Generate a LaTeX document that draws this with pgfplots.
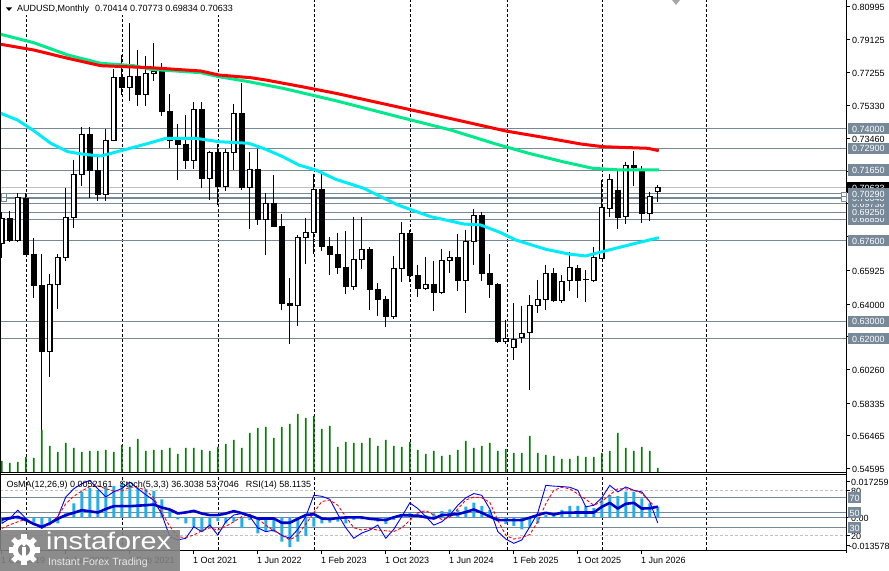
\documentclass[border=0pt]{standalone}
\usepackage{fontspec}
\setmainfont{Liberation Sans}
\usepackage{pgfplots}
\usepackage{pgfplotstable}
\pgfplotsset{compat=1.18}
\definecolor{slate}{RGB}{119,136,153}
\definecolor{maGreen}{RGB}{0,232,140}
\definecolor{maCyan}{RGB}{0,235,250}
\definecolor{volGreen}{RGB}{0,128,0}
\definecolor{osmaBlue}{RGB}{30,176,235}
\definecolor{rsiBlue}{RGB}{0,0,205}
\definecolor{bidGrey}{RGB}{192,192,192}
\newcommand{\mtfont}{\fontsize{9bp}{10bp}\selectfont}

\pgfplotstableread{
i o h l c
0 .6747 .6928 .6661 .6891
1 .6891 .6929 .6754 .6762
2 .6762 .7032 .6755 .7007
3 .7005 .7032 .6682 .6685
4 .6685 .6775 .6434 .6505
5 .6505 .6685 .5506 .6130
6 .6130 .6572 .5980 .6513
7 .6513 .6684 .6372 .6668
8 .6668 .7062 .6647 .6895
9 .6895 .7225 .6835 .7141
10 .7141 .7414 .7076 .7370
11 .7370 .7413 .7006 .7161
12 .7161 .7240 .6991 .7025
13 .7025 .7399 .6991 .7337
14 .7337 .7740 .7330 .7695
15 .7695 .7820 .7592 .7636
16 .7636 .8004 .7560 .7699
17 .7699 .7849 .7531 .7597
18 .7597 .7818 .7532 .7715
19 .7715 .7891 .7675 .7730
20 .7730 .7776 .7477 .7500
21 .7500 .7598 .7289 .7337
22 .7337 .7428 .7106 .7310
23 .7310 .7478 .7170 .7222
24 .7222 .7556 .7170 .7512
25 .7512 .7555 .7063 .7118
26 .7118 .7277 .6993 .7266
27 .7266 .7314 .6967 .7070
28 .7070 .7286 .7045 .7264
29 .7264 .7540 .7165 .7488
30 .7488 .7661 .7054 .7064
31 .7064 .7266 .6829 .7171
32 .7171 .7283 .6850 .6885
33 .6885 .7033 .6681 .6976
34 .6976 .7137 .6843 .6840
35 .6840 .6916 .6363 .6405
36 .6405 .6548 .6170 .6392
37 .6392 .6797 .6272 .6782
38 .6782 .6893 .6629 .6811
39 .6811 .7142 .6688 .7054
40 .7054 .7158 .6700 .6729
41 .6729 .6783 .6564 .6682
42 .6682 .6806 .6574 .6610
43 .6610 .6818 .6458 .6500
44 .6500 .6899 .6480 .6657
45 .6657 .6895 .6599 .6712
46 .6712 .6723 .6365 .6480
47 .6480 .6522 .6331 .6427
48 .6427 .6445 .6270 .6330
49 .6330 .6677 .6317 .6603
50 .6603 .6871 .6526 .6804
51 .6804 .6822 .6525 .6562
52 .6562 .6620 .6440 .6488
53 .6488 .6668 .6478 .6512
54 .6512 .6644 .6362 .6465
55 .6465 .6714 .6458 .6651
56 .6651 .6705 .6575 .6667
57 .6667 .6798 .6476 .6533
58 .6533 .6824 .6348 .6756
59 .6756 .6942 .6622 .6905
60 .6905 .6928 .6533 .6575
61 .6575 .6688 .6433 .6509
62 .6509 .6518 .6178 .6188
63 .6188 .6310 .6170 .6204
64 .6152 .6404 .6080 .6198
65 .6209 .6389 .6179 .6232
66 .6236 .6451 .5909 .6394
67 .6394 .6537 .6350 .6427
68 .6426 .6623 .6366 .6575
69 .6575 .6605 .6413 .6419
70 .6419 .6566 .6408 .6528
71 .6535 .6699 .6476 .6609
72 .6604 .6620 .6432 .6533
73 .6541 .6594 .6413 .6541
74 .6533 .6724 .6527 .6667
75 .6661 .7110 .6655 .6953
76 .6948 .7144 .6897 .7113
77 .7047 .7169 .6827 .6897
78 .6899 .7213 .6859 .7190
79 .7194 .7274 .7076 .7181
80 .7160 .7188 .6861 .6918
81 .6918 .7042 .6876 .7013
82 .70414 .70773 .69834 .70633
}\candles

\pgfplotstableread{
i v
0 11
1 9
2 10
3 15
4 14
5 42
6 26
7 20
8 29
9 24
10 20
11 21
12 21
13 22
14 20
15 27
16 25
17 33
18 21
19 22
20 22
21 24
22 18
23 24
24 24
25 22
26 21
27 25
28 28
29 32
30 24
31 39
32 44
33 45
34 34
35 45
36 48
37 58
38 54
39 56
40 43
41 46
42 25
43 30
44 29
45 29
46 34
47 26
48 32
49 26
50 25
51 30
52 22
53 18
54 21
55 16
56 17
57 22
58 31
59 24
60 26
61 29
62 21
63 23
64 19
65 19
66 36
67 19
68 17
69 16
70 13
71 13
72 16
73 15
74 15
75 19
76 21
77 39
78 24
79 21
80 25
81 21
82 4
}\volumetab

\pgfplotstableread{
i osma m s r
0 -0.0029 35.8 29 41
1 -0.0013 42.4 34 43
2 -0.0010 53.5 38 44.6
3 -0.0020 42.4 41 40.3
4 -0.0026 35 35 35
5 -0.0045 29.2 32 31.4
6 -0.0026 36 34 35.8
7 -0.0029 44.6 45 42
8 0.0019 71.1 62 46.9
9 0.0068 82 72 50
10 0.0124 88.8 79 53.5
11 0.0141 93.2 85 52
12 0.0132 82 86 50.4
13 0.0149 71.1 82 55
14 0.0152 78 79 58.8
15 0.0165 82.2 79 59
16 0.0157 91 84 58.8
17 0.0141 82.2 84 59.5
18 0.0136 74 80 60.1
19 0.0128 66.7 70 61
20 0.0087 48 50 57
21 0.0039 18 32 54.4
22 -0.0010 13.8 18 49.1
23 -0.0029 16 17 50.5
24 -0.0045 31.4 20.4 52.6
25 -0.0069 24.8 26 49
26 -0.0045 33.6 30 46.9
27 -0.0018 20.4 27 46.9
28 -0.0029 38 32 49
29 -0.0021 47 38 52.2
30 -0.0053 49 45 49.5
31 -0.0013 45 48 46
32 -0.0078 30 42 42.4
33 -0.0066 24.8 33.6 42.4
34 -0.0069 27 26 42.4
35 -0.0118 20 20 36.7
36 -0.0145 16 14 36.7
37 -0.0118 28 20 42
38 -0.0090 45 35 47
39 -0.0045 73.3 50 48.2
40 -0.0029 72 65 42.4
41 -0.0026 68 67 41.6
42 -0.0021 48 60 43
43 -0.0029 30 45 43.8
44 -0.0013 16 30 43.8
45 -0.0010 23 27 43.8
46 -0.0005 27 29 42
47 -0.0021 33.6 27 41
48 -0.0032 16 26 40.3
49 -0.0013 28 25 44
50 0.0011 45 30 46.9
51 0.0023 63.2 40 46.5
52 0.0019 55.7 50 46
53 0.0011 45 53 44
54 0.0019 33.6 47 42.4
55 0.0030 38 41 46.9
56 0.0038 46.9 44 47.5
57 0.0036 60 55 48.2
58 0.0052 70 67 51
59 0.0071 75.6 71 54.4
60 0.0055 73.3 70 50
61 0.0036 55 64 45
62 -0.0010 25 40 40.3
63 -0.0032 15 20 40.3
64 -0.0042 9.3 15 40.3
65 -0.0058 13.8 17 40.3
66 -0.0045 31.4 21 43.5
67 -0.0029 50 38 47
68 0.0011 86.6 62 50
69 0.0019 85.5 80 47.7
70 0.0036 85 84 50
71 0.0055 84 82 50.2
72 0.0055 80 75 50.4
73 0.0055 58 68 50.4
74 0.0044 60 60 50.4
75 0.0087 70 65 58
76 0.0108 86.6 74 63.2
77 0.0103 77.8 82 55.7
78 0.0124 84.4 82 62
79 0.0124 80 80 63.2
80 0.0092 77.8 76 55.7
81 0.0068 64.5 65 56
82 0.0052 36.3 53.7 58.1
}\indtab

\pgfplotsset{panel/.style={scale only axis, width=846bp, xmin=-0.225, xmax=105.525, hide axis, anchor=south west}}

\begin{document}
\begin{tikzpicture}
\useasboundingbox (0,0) rectangle (889bp,571bp);
\fill[white] (0,0) rectangle (889bp,571bp);

% ---------- price panel ----------
\begin{axis}[panel, at={(0bp,99bp)}, height=472bp, ymin=0.544, ymax=0.813714]
\pgfplotsinvokeforeach{3.025,15.025,27.025,39.025,51.025,63.15,75.025,88.025}{
  \draw[black, line width=0.8bp, dash pattern=on 3bp off 2bp] (axis cs:#1,0.544) -- (axis cs:#1,0.8137);
}
\pgfplotsinvokeforeach{0.74,0.729,0.7165,0.7029,0.6973,0.6925,0.6885,0.676,0.63,0.62}{
  \addplot[slate, line width=1bp, forget plot] coordinates {(-0.225,#1) (105.525,#1)};
}
\addplot[slate, line width=2bp] coordinates {(-0.225,0.7004) (105.525,0.7004)};
\addplot[bidGrey, line width=1bp] coordinates {(-0.225,0.70633) (105.525,0.70633)};
% wicks
\addplot[draw=none, mark=none,
  error bars/.cd, y dir=minus, y explicit, error mark=none,
  error bar style={line width=1bp, draw=black, solid}]
  table[x=i, y=h, y error minus expr={\thisrow{h}-\thisrow{l}}] {\candles};
% bodies (outline / bear fill)
\addplot[draw=none, mark=none,
  error bars/.cd, y dir=minus, y explicit, error mark=none,
  error bar style={line width=5.4bp, draw=black, solid}]
  table[x=i, y expr={max(\thisrow{o},\thisrow{c})+0.000286},
        y error minus expr={abs(\thisrow{c}-\thisrow{o})+0.000571}] {\candles};
% bull inner white
\addplot[draw=none, mark=none,
  error bars/.cd, y dir=minus, y explicit, error mark=none,
  error bar style={line width=3.3bp, draw=white, solid}]
  table[x=i, y expr={\thisrow{c}-0.000286},
        y error minus expr={max(\thisrow{c}-\thisrow{o}-0.000571,0)}] {\candles};
% moving averages
\addplot[maGreen, line width=3bp, line join=round] coordinates {
(-0.125,0.79411) (4,0.78931) (8.25,0.78229) (12.375,0.77754) (16.5,0.77617) (18.625,0.77411)
(24.875,0.77217) (27.125,0.76989) (30.875,0.76703) (35.125,0.76326) (41.75,0.75617)
(49.875,0.74663) (56.125,0.73943) (61.75,0.73143) (65.875,0.72611) (70.125,0.72131)
(73.875,0.71754) (77.375,0.71657) (82.125,0.71657)};
\addplot[red, line width=3bp, line join=round] coordinates {
(-0.125,0.78840) (4,0.78514) (8.25,0.78040) (12.375,0.77617) (18.625,0.77503) (24.875,0.77314)
(27.125,0.77086) (31.125,0.76931) (33,0.76800) (37.375,0.76429) (41.75,0.76040)
(49.875,0.75223) (56.125,0.74594) (63,0.73886) (68.375,0.73469) (72.375,0.73143)
(75.125,0.72989) (80.75,0.72897) (82.125,0.72760)};
\addplot[maCyan, line width=3bp, line join=round] coordinates {
(-0.125,0.74897) (1.96,0.74514) (4,0.73903) (6.125,0.73183) (8.25,0.72703) (10.25,0.72554)
(12.375,0.72457) (15.25,0.72800) (18.625,0.73217) (20.5,0.73469) (24.25,0.73469)
(27.125,0.73274) (30.875,0.73183) (33,0.72840) (35.125,0.72417) (37.125,0.71943)
(39.25,0.71657) (41.75,0.71126) (45.25,0.70611) (49.5,0.69657) (53.625,0.68989)
(57.75,0.68571) (59.875,0.68514) (62.375,0.68074) (64.25,0.67657) (68,0.67126)
(70.875,0.66857) (73,0.66743) (74.25,0.66897) (78.375,0.67371) (82.125,0.67789)};
\end{axis}

% ---------- volume ----------
\begin{axis}[panel, at={(0bp,99bp)}, height=472bp, ymin=0, ymax=472]
\addplot[ybar, bar width=1.4bp, bar shift=0pt, fill=volGreen, draw=none] table[x=i, y=v] {\volumetab};
\end{axis}

% ---------- lower panel: levels + grid ----------
\begin{axis}[panel, at={(0bp,21bp)}, height=76bp, ymin=0.4, ymax=101.7]
\pgfplotsinvokeforeach{3.025,15.025,27.025,39.025,51.025,63.15,75.025,88.025}{
  \draw[black, line width=0.8bp, dash pattern=on 3bp off 2bp] (axis cs:#1,0.4) -- (axis cs:#1,101.7);
}
\addplot[bidGrey, line width=1bp, dash pattern=on 3bp off 2bp] coordinates {(-0.225,80) (105.525,80)};
\addplot[bidGrey, line width=1bp, dash pattern=on 3bp off 2bp] coordinates {(-0.225,20) (105.525,20)};
\pgfplotsinvokeforeach{70,50,44,30}{
  \addplot[slate, line width=1bp, forget plot] coordinates {(-0.225,#1) (105.525,#1)};
}
\end{axis}

% ---------- OsMA ----------
\begin{axis}[panel, at={(0bp,21bp)}, height=76bp, ymin=-0.015851, ymax=0.020989]
\addplot[ybar, bar width=3bp, bar shift=0pt, fill=osmaBlue, draw=none] table[x=i, y=osma] {\indtab};
\end{axis}

% ---------- Stoch + RSI ----------
\begin{axis}[panel, at={(0bp,21bp)}, height=76bp, ymin=0.4, ymax=101.7]
\addplot[blue, line width=0.9bp] table[x=i, y=m] {\indtab};
\addplot[red, line width=0.9bp, dash pattern=on 3bp off 2bp] table[x=i, y=s] {\indtab};
\addplot[rsiBlue, line width=2.6bp, line join=round] table[x=i, y=r] {\indtab};
\end{axis}

% ---------- decorations in pixel coordinates ----------
\begin{scope}[x=1bp, y=-1bp, yshift=571bp, font=\mtfont]
% title background
\fill[white] (1,0) rectangle (244,15);
% frame
\draw[black, line width=1bp] (0.5,0) -- (0.5,550.5);
\draw[black, line width=1bp] (0,472.5) -- (846.5,472.5);
\draw[black, line width=1bp] (0,474.5) -- (846.5,474.5);
\draw[black, line width=1bp] (0,550.5) -- (846.5,550.5);
\draw[black, line width=1bp] (846.5,0) -- (846.5,553);
% line handles
\draw[slate, fill=white, line width=0.8bp] (1.5,193) rectangle (6.5,197.2);
\draw[slate, fill=white, line width=0.8bp] (1.5,197.2) rectangle (6.5,201.5);
\draw[slate, fill=white, line width=0.8bp] (841,192) rectangle (846,196.8);
\draw[slate, fill=white, line width=0.8bp] (841,196.8) rectangle (846,201.5);
% shift marker
\fill[black!35] (672,0) -- (680,0) -- (676,5) -- cycle;
% title
\fill[black] (6,7.5) -- (12,7.5) -- (9,11) -- cycle;
\node[anchor=base west, inner sep=0] at (17,12) {AUDUSD,Monthly\hspace{6bp}0.70414 0.70773 0.69834 0.70633};
\node[anchor=base west, inner sep=0] at (6.5,487.5) {OsMA(12,26,9) 0.0052161\hspace{7bp}Stoch(5,3,3) 36.3038 53.7046\hspace{7bp}RSI(14) 58.1135};
% price tick marks
\foreach \y in {6.6,39.3,72.0,105.7,138.5,171.1,203.8,236.5,270.3,304.0,336.7,369.5,403.1,435.9,468.6}{
  \draw[black, line width=0.8bp] (846.5,\y) -- (849.5,\y);
}
% visible price tick labels
\foreach \y/\t in {6.6/0.80995,39.3/0.79125,72.0/0.77255,105.7/0.75330,138.5/0.73460,270.3/0.65925,304.0/0.64000,369.5/0.60260,403.1/0.58335,435.9/0.56465,468.6/0.54595}{
  \node[anchor=west, inner sep=0] at (852,\y+1) {\t};
}
% level labels
\fill[black] (847,182.2) rectangle (889,193.4);
\node[anchor=west, inner sep=0, white] at (852,188.4) {0.70633};
\foreach \y/\t in {339/0.62000,321.5/0.63000,241/0.67600,219.1/0.68850,212.1/0.69250,203.7/0.69730,198.3/0.70040,193.9/0.70290,170.1/0.71650,148.3/0.72900,129/0.74000}{
  \fill[slate] (847.5,\y-5.7) rectangle (889,\y+5.5);
  \node[anchor=west, inner sep=0, white] at (852,\y+0.3) {\t};
}
% lower panel right labels
\foreach \y in {481.7,490.3,517.3,535.3,545.3}{ \draw[black, line width=0.8bp] (846.5,\y) -- (849.5,\y); }
\node[anchor=west, inner sep=0] at (851,482.5) {0.017259};
\node[anchor=west, inner sep=0] at (851,491) {80};
\node[anchor=west, inner sep=0] at (851,518.5) {0.00};
\node[anchor=west, inner sep=0] at (851,536) {20};
\node[anchor=west, inner sep=0] at (849,546) {-0.013578};
\foreach \y/\t in {497.8/70,512.8/50,527.8/30}{
  \fill[slate] (847.5,\y-5.5) rectangle (861,\y+5.3);
  \node[anchor=west, inner sep=0, white] at (849.5,\y+0.3) {\t};
}
% x tick marks and labels
\foreach \k/\t in {0/1 Oct 2019,8/1 Jun 2020,16/1 Feb 2021,24/1 Oct 2021,32/1 Jun 2022,40/1 Feb 2023,48/1 Oct 2023,56/1 Jun 2024,64/1 Feb 2025,72/1 Oct 2025,80/1 Jun 2026}{
  \draw[black, line width=0.8bp] (1.8+8*\k,550.5) -- (1.8+8*\k,554);
  \node[anchor=base west, inner sep=0] at (1+8*\k,564) {\t};
}
% watermark logo
\fill[black!50, opacity=0.9] (0,530) rectangle (180,571);
\begin{scope}[shift={(24,550)}]
  \foreach \a in {0,45,...,315}{ \fill[white, rotate=\a] (-2.6,-15.5) rectangle (2.6,-9); }
  \fill[white] (0,0) circle (11.5);
  \fill[black!50] (0,0) circle (6);
  \fill[white] (-1.6,-3) rectangle (1.6,9);
  \fill[white] (0,-5.2) circle (1.8);
\end{scope}
\node[anchor=base west, inner sep=0, white, xscale=1.2, font=\fontsize{24bp}{24bp}\selectfont] at (46,550) {instaforex};
\node[anchor=base west, inner sep=0, white, opacity=0.8, font=\fontsize{10.5bp}{11bp}\selectfont] at (48,565.5) {Instant Forex Trading};
\end{scope}
\end{tikzpicture}
\end{document}
